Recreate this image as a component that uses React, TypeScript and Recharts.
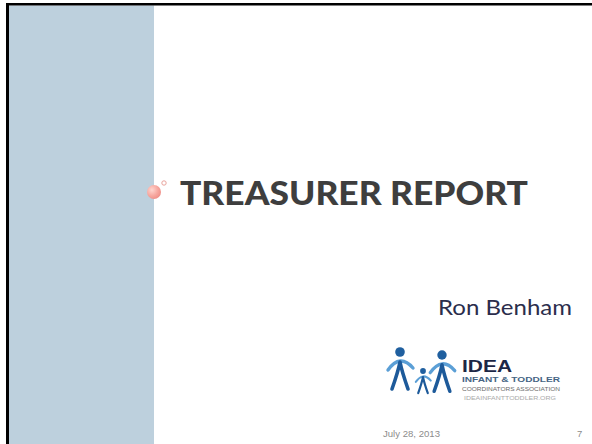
import * as React from "react";
import { ComposedChart, XAxis, YAxis, ReferenceArea, ReferenceDot } from "recharts";

const W = 592;
const H = 444;

const slideTitle = "TREASURER REPORT";
const presenter = "Ron Benham";
const footerDate = "July 28, 2013";
const pageNumber = "7";
const logoLines = ["IDEA", "INFANT & TODDLER", "COORDINATORS ASSOCIATION", "IDEAINFANTTODDLER.ORG"];

// slide frame placeholder points so the axes have a domain to work from
const frame = [
  { x: 0, y: 0 },
  { x: W, y: H },
];

// little helper: a text drawn at a reference dot's scaled position
const textShape = (text: string, style: any) => (p: any) => (
  <text x={p.cx} y={p.cy} {...style}>
    {text}
  </text>
);

const bulletShape = (p: any) => (
  <g>
    <defs>
      <radialGradient id="pinkBall" cx="35%" cy="35%" r="70%">
        <stop offset="0%" stopColor="#ffd6d0" />
        <stop offset="60%" stopColor="#f7a8a0" />
        <stop offset="100%" stopColor="#ef8f88" />
      </radialGradient>
    </defs>
    <circle cx={p.cx} cy={p.cy} r={7} fill="url(#pinkBall)" />
  </g>
);

const ringShape = (p: any) => (
  <circle cx={p.cx} cy={p.cy} r={2.2} fill="none" stroke="#e9a39c" strokeWidth={1} />
);

// one logo person: head + arms arc + legs, scaled by s
const personShape = (s: number) => (p: any) => {
  const { cx, cy } = p;
  return (
    <g>
      <path
        d={`M ${cx - 12 * s} ${cy + 18 * s} Q ${cx} ${cy + 1 * s} ${cx + 13 * s} ${cy + 16 * s}`}
        fill="none"
        stroke="#5b9fd6"
        strokeWidth={3.4 * s}
        strokeLinecap="round"
      />
      <path
        d={`M ${cx - 8 * s} ${cy + 37 * s} Q ${cx - 2 * s} ${cy + 20 * s} ${cx} ${cy + 10 * s} Q ${cx + 2 * s} ${cy + 20 * s} ${cx + 8 * s} ${cy + 37 * s}`}
        fill="none"
        stroke="#1d5a9a"
        strokeWidth={3.6 * s}
        strokeLinecap="round"
        strokeLinejoin="round"
      />
      <circle cx={cx} cy={cy} r={4.8 * s} fill="#1f5f9f" />
    </g>
  );
};

export default function App() {
  return (
    <div style={{ position: "absolute", left: 0, top: 0, width: W, height: H, background: "#fff" }}>
      <ComposedChart width={W} height={H} data={frame} margin={{ top: 0, right: 0, bottom: 0, left: 0 }}>
        <XAxis dataKey="x" type="number" domain={[0, W]} allowDataOverflow hide />
        <YAxis dataKey="y" type="number" domain={[0, H]} allowDataOverflow reversed hide />

        {/* side panel and frame */}
        <ReferenceArea x1={9} x2={154} y1={5.5} y2={H} fill="#bdd0dd" fillOpacity={1} stroke="none" />
        <ReferenceArea x1={6} x2={W} y1={3} y2={5.5} fill="#000" fillOpacity={1} stroke="none" />
        <ReferenceArea x1={6} x2={9} y1={3} y2={H} fill="#000" fillOpacity={1} stroke="none" />

        {/* title bullet */}
        <ReferenceDot x={154} y={192} r={7} shape={bulletShape} />
        <ReferenceDot x={164} y={183} r={2} shape={ringShape} />

        <ReferenceDot
          x={180}
          y={205}
          r={0}
          shape={textShape(slideTitle, {
            fontFamily: "Lato, 'Open Sans', sans-serif",
            fontWeight: 900,
            fontSize: 32,
            fill: "#3e3e3e",
            textLength: 348,
            lengthAdjust: "spacingAndGlyphs",
          })}
        />
        <ReferenceDot
          x={438}
          y={315}
          r={0}
          shape={textShape(presenter, {
            fontFamily: "Lato, 'Open Sans', sans-serif",
            fontSize: 21,
            fill: "#2b2d4c",
            textLength: 134,
            lengthAdjust: "spacingAndGlyphs",
          })}
        />

        {/* logo */}
        <ReferenceDot x={400} y={352} r={0} shape={personShape(1)} />
        <ReferenceDot x={423} y={371} r={0} shape={personShape(0.6)} />
        <ReferenceDot x={442} y={355} r={0} shape={personShape(0.98)} />
        <ReferenceDot
          x={462}
          y={372}
          r={0}
          shape={textShape(logoLines[0], {
            fontFamily: "'Liberation Sans', Arial, sans-serif",
            fontWeight: 700,
            fontSize: 16.5,
            fill: "#1c2746",
            textLength: 50,
            lengthAdjust: "spacingAndGlyphs",
          })}
        />
        <ReferenceDot
          x={462}
          y={381.5}
          r={0}
          shape={textShape(logoLines[1], {
            fontFamily: "'Liberation Sans', Arial, sans-serif",
            fontWeight: 700,
            fontSize: 7.5,
            fill: "#456484",
            textLength: 98,
            lengthAdjust: "spacingAndGlyphs",
          })}
        />
        <ReferenceDot
          x={462}
          y={390.5}
          r={0}
          shape={textShape(logoLines[2], {
            fontFamily: "'Liberation Sans', Arial, sans-serif",
            fontSize: 4.8,
            fill: "#6a6a6a",
            textLength: 98,
            lengthAdjust: "spacingAndGlyphs",
          })}
        />
        <ReferenceDot
          x={464}
          y={399.5}
          r={0}
          shape={textShape(logoLines[3], {
            fontFamily: "'Liberation Sans', Arial, sans-serif",
            fontSize: 4.8,
            fill: "#aaaaaa",
            textLength: 92,
            lengthAdjust: "spacingAndGlyphs",
          })}
        />

        {/* footer */}
        <ReferenceDot
          x={383}
          y={437}
          r={0}
          shape={textShape(footerDate, {
            fontFamily: "'Liberation Sans', Arial, sans-serif",
            fontSize: 9.5,
            fill: "#8c8c8c",
            textLength: 57,
            lengthAdjust: "spacingAndGlyphs",
          })}
        />
        <ReferenceDot
          x={577}
          y={437}
          r={0}
          shape={textShape(pageNumber, {
            fontFamily: "'Liberation Sans', Arial, sans-serif",
            fontSize: 9.5,
            fill: "#8c8c8c",
          })}
        />
      </ComposedChart>
    </div>
  );
}
